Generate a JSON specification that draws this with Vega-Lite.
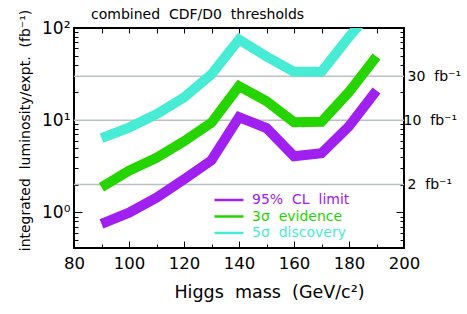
{
  "$schema": "https://vega.github.io/schema/vega-lite/v6.json",
  "autosize": "none",
  "width": 330,
  "height": 220,
  "padding": {"left": 74, "top": 28, "right": 63, "bottom": 66},
  "background": "white",
  "config": {
    "view": {"stroke": "black", "strokeWidth": 2},
    "font": "DejaVu Sans",
    "axis": {"domain": false, "grid": false, "tickColor": "black", "labelColor": "black", "titleColor": "black", "labelFont": "DejaVu Sans", "titleFont": "DejaVu Sans", "titleFontWeight": "normal"}
  },
  "title": {"text": "combined\u00a0 CDF/D0\u00a0 thresholds", "anchor": "start", "frame": "group", "dx": 17, "offset": -24, "baseline": "alphabetic", "fontSize": 14, "fontWeight": "normal", "font": "DejaVu Sans", "color": "black"},
  "layer": [
    {
      "data": {"values": [{"lum": 2}, {"lum": 10}, {"lum": 30}]},
      "mark": {"type": "rule", "color": "#b9c1c1", "strokeWidth": 1.5},
      "encoding": {
        "x": {"datum": 80, "type": "quantitative", "scale": {"domain": [80, 200], "nice": false, "zero": false},
          "axis": {"orient": "top", "title": null, "values": [90, 100, 110, 120, 130, 140, 150, 160, 170, 180, 190], "labels": false, "tickSize": -5, "tickWidth": 1}},
        "x2": {"datum": 200},
        "y": {"field": "lum", "type": "quantitative", "scale": {"type": "log", "domain": [0.41, 100], "nice": false},
          "axis": {"orient": "right", "title": null,
            "values": [0.5, 0.6, 0.7, 0.8, 0.9, 1, 2, 3, 4, 5, 6, 7, 8, 9, 10, 20, 30, 40, 50, 60, 70, 80, 90, 100],
            "labelExpr": "datum.value == 2 ? '2\u00a0 fb⁻¹' : datum.value == 10 ? '10\u00a0 fb⁻¹' : datum.value == 30 ? '30\u00a0 fb⁻¹' : ''",
            "tickSize": {"condition": {"test": "datum.value == 1 || datum.value == 10 || datum.value == 100", "value": -8}, "value": -4},
            "labelPadding": 7, "labelFontSize": 14, "labelBaseline": "middle"}}
      }
    },
    {
      "data": {"values": [
        {"mass": 90, "lum": 0.75, "series": "95% CL limit"},
        {"mass": 100, "lum": 0.99, "series": "95% CL limit"},
        {"mass": 110, "lum": 1.44, "series": "95% CL limit"},
        {"mass": 120, "lum": 2.28, "series": "95% CL limit"},
        {"mass": 130, "lum": 3.67, "series": "95% CL limit"},
        {"mass": 140, "lum": 10.8, "series": "95% CL limit"},
        {"mass": 150, "lum": 8.2, "series": "95% CL limit"},
        {"mass": 160, "lum": 4.06, "series": "95% CL limit"},
        {"mass": 170, "lum": 4.38, "series": "95% CL limit"},
        {"mass": 180, "lum": 8.6, "series": "95% CL limit"},
        {"mass": 190, "lum": 21, "series": "95% CL limit"},
        {"mass": 90, "lum": 1.87, "series": "3σ evidence"},
        {"mass": 100, "lum": 2.83, "series": "3σ evidence"},
        {"mass": 110, "lum": 3.91, "series": "3σ evidence"},
        {"mass": 120, "lum": 5.9, "series": "3σ evidence"},
        {"mass": 130, "lum": 9.4, "series": "3σ evidence"},
        {"mass": 140, "lum": 23.4, "series": "3σ evidence"},
        {"mass": 150, "lum": 16.1, "series": "3σ evidence"},
        {"mass": 160, "lum": 9.5, "series": "3σ evidence"},
        {"mass": 170, "lum": 9.6, "series": "3σ evidence"},
        {"mass": 180, "lum": 20.2, "series": "3σ evidence"},
        {"mass": 190, "lum": 49, "series": "3σ evidence"},
        {"mass": 90, "lum": 6.37, "series": "5σ discovery"},
        {"mass": 100, "lum": 8.3, "series": "5σ discovery"},
        {"mass": 110, "lum": 11.6, "series": "5σ discovery"},
        {"mass": 120, "lum": 17.6, "series": "5σ discovery"},
        {"mass": 130, "lum": 31.5, "series": "5σ discovery"},
        {"mass": 140, "lum": 75, "series": "5σ discovery"},
        {"mass": 150, "lum": 49, "series": "5σ discovery"},
        {"mass": 160, "lum": 33.5, "series": "5σ discovery"},
        {"mass": 170, "lum": 33.5, "series": "5σ discovery"},
        {"mass": 180, "lum": 80, "series": "5σ discovery"},
        {"mass": 190, "lum": 180, "series": "5σ discovery"}
      ]},
      "mark": {"type": "line", "strokeWidth": 10, "strokeCap": "butt", "strokeJoin": "miter", "clip": true},
      "encoding": {
        "x": {"field": "mass", "type": "quantitative",
          "axis": {"orient": "bottom", "title": "Higgs\u00a0 mass\u00a0 (GeV/c²)", "titleFontSize": 17.5, "titleX": 195, "titleY": 44, "titleBaseline": "middle",
            "values": [80, 90, 100, 110, 120, 130, 140, 150, 160, 170, 180, 190, 200],
            "labelExpr": "datum.value % 20 == 0 ? datum.label : ''",
            "labelFontSize": 16.5, "labelPadding": 14, "labelFlush": false,
            "tickSize": {"condition": {"test": "datum.value % 20 == 0", "value": -7}, "value": -4}}},
        "y": {"field": "lum", "type": "quantitative",
          "axis": {"orient": "left", "title": "integrated\u00a0 luminosity/expt.\u00a0 (fb⁻¹)", "titleFontSize": 14, "titleX": -49, "titleY": 102, "titleAngle": -90, "titleAlign": "center", "titleBaseline": "middle",
            "values": [0.5, 0.6, 0.7, 0.8, 0.9, 1, 2, 3, 4, 5, 6, 7, 8, 9, 10, 20, 30, 40, 50, 60, 70, 80, 90, 100],
            "labelExpr": "datum.value == 1 ? '10⁰' : datum.value == 10 ? '10¹' : datum.value == 100 ? '10²' : ''",
            "labelFontSize": 17, "labelPadding": 12, "labelBaseline": "middle",
            "tickSize": {"condition": {"test": "datum.value == 1 || datum.value == 10 || datum.value == 100", "value": -8}, "value": -4}}},
        "color": {"field": "series", "type": "nominal",
          "scale": {"domain": ["95% CL limit", "3σ evidence", "5σ discovery"], "range": ["#a020f0", "#25d400", "#48ecd4"]},
          "legend": {"title": null, "orient": "none", "legendX": 148, "legendY": 165, "symbolType": "M-2.9,0H2.9", "symbolSize": 100, "symbolStrokeWidth": 2.5, "labelFontSize": 14, "labelOffset": 16, "rowPadding": 2.5,
            "labelExpr": "replace(datum.label, regexp(' ', 'g'), '\u00a0 ')",
            "encode": {"labels": {"update": {"fill": {"scale": "color", "field": "value"}}}}}}
      }
    }
  ],
  "resolve": {"axis": {"x": "independent", "y": "independent"}}
}
